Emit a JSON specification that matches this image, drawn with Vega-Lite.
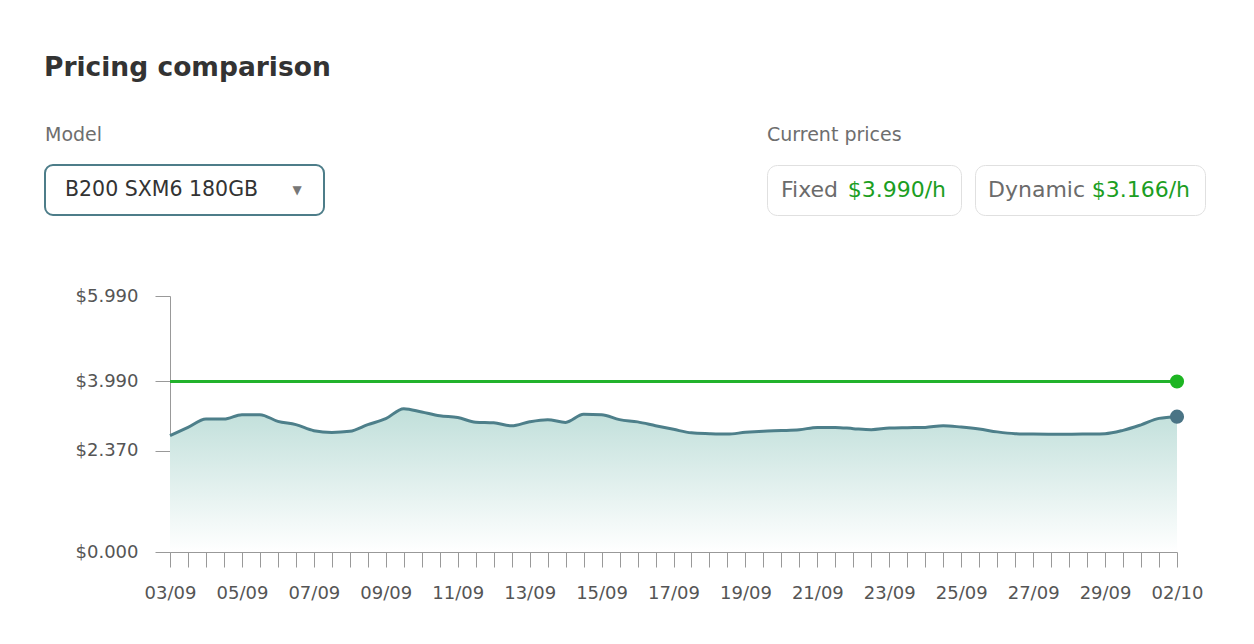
{
  "$schema": "https://vega.github.io/schema/vega-lite/v6.json",
  "padding": {"left": 44, "top": 54, "right": 0, "bottom": 0},
  "background": "#ffffff",
  "title": {
    "text": "Pricing comparison",
    "anchor": "start",
    "font": "DejaVu Sans",
    "fontSize": 26.5,
    "fontWeight": "bold",
    "color": "#333333",
    "offset": 44
  },
  "datasets": {
    "model": [{"model": "B200 SXM6 180GB"}],
    "current": [
      {"type": "Fixed", "t": "02/10", "price": 3.99, "priceLabel": "$3.990/h"},
      {"type": "Dynamic", "t": "02/10", "price": 3.166, "priceLabel": "$3.166/h"}
    ],
    "history": [
      {"t": "03/09", "price": 2.722},
      {"t": "03/09 12h", "price": 2.916},
      {"t": "04/09 01h", "price": 3.111},
      {"t": "04/09 13h", "price": 3.111},
      {"t": "05/09", "price": 3.214},
      {"t": "05/09 14h", "price": 3.214},
      {"t": "06/09 03h", "price": 3.057},
      {"t": "06/09 15h", "price": 2.98},
      {"t": "07/09", "price": 2.839},
      {"t": "07/09 16h", "price": 2.799},
      {"t": "08/09 04h", "price": 2.823},
      {"t": "08/09 17h", "price": 2.98},
      {"t": "09/09", "price": 3.12},
      {"t": "09/09 18h", "price": 3.354},
      {"t": "10/09 06h", "price": 3.275},
      {"t": "10/09 18h", "price": 3.186},
      {"t": "11/09", "price": 3.146},
      {"t": "11/09 19h", "price": 3.038},
      {"t": "12/09 08h", "price": 3.022},
      {"t": "12/09 20h", "price": 2.952},
      {"t": "13/09", "price": 3.048},
      {"t": "13/09 21h", "price": 3.097},
      {"t": "14/09 09h", "price": 3.033},
      {"t": "14/09 22h", "price": 3.221},
      {"t": "15/09", "price": 3.214},
      {"t": "15/09 23h", "price": 3.097},
      {"t": "16/09 11h", "price": 3.045},
      {"t": "16/09 23h", "price": 2.956},
      {"t": "17/09", "price": 2.87},
      {"t": "18/09 00h", "price": 2.788},
      {"t": "18/09 13h", "price": 2.769},
      {"t": "19/09 01h", "price": 2.759},
      {"t": "19/09", "price": 2.8},
      {"t": "20/09 02h", "price": 2.827},
      {"t": "20/09 15h", "price": 2.841},
      {"t": "21/09 03h", "price": 2.86},
      {"t": "21/09", "price": 2.916},
      {"t": "22/09 04h", "price": 2.916},
      {"t": "22/09 16h", "price": 2.886},
      {"t": "23/09 05h", "price": 2.862},
      {"t": "23/09", "price": 2.9},
      {"t": "24/09 06h", "price": 2.909},
      {"t": "24/09 18h", "price": 2.916},
      {"t": "25/09 06h", "price": 2.956},
      {"t": "25/09", "price": 2.923},
      {"t": "26/09 07h", "price": 2.877},
      {"t": "26/09 20h", "price": 2.811},
      {"t": "27/09 08h", "price": 2.769},
      {"t": "27/09", "price": 2.759},
      {"t": "28/09 09h", "price": 2.757},
      {"t": "28/09 21h", "price": 2.757},
      {"t": "29/09 10h", "price": 2.762},
      {"t": "29/09", "price": 2.769},
      {"t": "30/09 11h", "price": 2.846},
      {"t": "30/09 23h", "price": 2.975},
      {"t": "01/10 12h", "price": 3.127},
      {"t": "02/10", "price": 3.166}
    ]
  },
  "vconcat": [
    {
      "hconcat": [
        {
          "width": 279,
          "height": 50,
          "view": {"stroke": "#4d7d89", "strokeWidth": 2, "cornerRadius": 8},
          "title": {
            "text": "Model",
            "anchor": "start",
            "font": "DejaVu Sans",
            "fontSize": 19,
            "fontWeight": "normal",
            "color": "#6e6e6e",
            "offset": 20
          },
          "data": {"name": "model"},
          "layer": [
            {
              "mark": {"type": "text", "align": "left", "baseline": "middle", "dx": -119.5, "font": "DejaVu Sans", "fontSize": 20.5, "color": "#333333"},
              "encoding": {"text": {"field": "model"}}
            },
            {
              "mark": {"type": "text", "text": "▼", "align": "center", "baseline": "middle", "dx": 112.5, "font": "DejaVu Sans", "fontSize": 12, "color": "#777777"},
              "encoding": {}
            }
          ]
        },
        {
          "width": 415,
          "height": 50,
          "data": {"values": []},
          "mark": "text",
          "encoding": {}
        },
        {
          "width": 194,
          "height": 50,
          "view": {"stroke": "#e0e0e0", "strokeWidth": 1, "cornerRadius": 10},
          "title": {
            "text": "Current prices",
            "anchor": "start",
            "font": "DejaVu Sans",
            "fontSize": 19,
            "fontWeight": "normal",
            "color": "#6e6e6e",
            "offset": 20
          },
          "data": {"name": "current"},
          "transform": [{"filter": "datum.type == 'Fixed'"}],
          "layer": [
            {
              "mark": {"type": "text", "align": "left", "baseline": "middle", "dx": -83, "font": "DejaVu Sans", "fontSize": 22, "color": "#6b6b6b"},
              "encoding": {"text": {"field": "type"}}
            },
            {
              "mark": {"type": "text", "align": "right", "baseline": "middle", "dx": 82, "font": "DejaVu Sans", "fontSize": 22, "color": "#1b9e22"},
              "encoding": {"text": {"field": "priceLabel"}}
            }
          ]
        },
        {
          "width": 230,
          "height": 50,
          "view": {"stroke": "#e0e0e0", "strokeWidth": 1, "cornerRadius": 10},
          "data": {"name": "current"},
          "transform": [{"filter": "datum.type == 'Dynamic'"}],
          "layer": [
            {
              "mark": {"type": "text", "align": "left", "baseline": "middle", "dx": -102, "font": "DejaVu Sans", "fontSize": 22, "color": "#6b6b6b"},
              "encoding": {"text": {"field": "type"}}
            },
            {
              "mark": {"type": "text", "align": "right", "baseline": "middle", "dx": 100, "font": "DejaVu Sans", "fontSize": 22, "color": "#1b9e22"},
              "encoding": {"text": {"field": "priceLabel"}}
            }
          ]
        }
      ],
      "spacing": 14,
      "bounds": "flush"
    },
    {
      "hconcat": [
        {
          "width": 111,
          "height": 256,
          "data": {"values": []},
          "mark": "text",
          "encoding": {}
        },
        {
          "width": 1007,
          "height": 256,
          "layer": [
            {
              "data": {"name": "history"},
              "mark": {
                "type": "area",
                "interpolate": "monotone",
                "color": {
                  "gradient": "linear",
                  "x1": 0, "y1": 0, "x2": 0, "y2": 1,
                  "stops": [
                    {"offset": 0, "color": "#c0dfda"},
                    {"offset": 1, "color": "#ffffff"}
                  ]
                }
              },
              "encoding": {
                "x": {
                  "field": "t",
                  "type": "ordinal",
                  "sort": null,
                  "title": null,
                  "scale": {"type": "point", "padding": 0},
                  "axis": {
                    "labelExpr": "length(datum.label) == 5 ? datum.label : ''",
                    "labelAngle": 0,
                    "labelOverlap": false,
                    "labelFlush": false,
                    "tickSize": 15,
                    "labelPadding": 17,
                    "domainColor": "#999999",
                    "tickColor": "#999999",
                    "labelColor": "#555555",
                    "labelFont": "DejaVu Sans",
                    "labelFontSize": 18,
                    "grid": false
                  }
                },
                "y": {
                  "field": "price",
                  "type": "quantitative",
                  "title": null,
                  "scale": {"domain": [0, 5.99], "nice": false},
                  "axis": {
                    "values": [0, 2.37, 3.99, 5.99],
                    "format": "$.3f",
                    "tickSize": 15,
                    "labelPadding": 17,
                    "domainColor": "#999999",
                    "tickColor": "#999999",
                    "labelColor": "#555555",
                    "labelFont": "DejaVu Sans",
                    "labelFontSize": 18,
                    "grid": false
                  }
                }
              }
            },
            {
              "data": {"name": "history"},
              "mark": {"type": "line", "interpolate": "monotone", "color": "#4d7f8a", "strokeWidth": 3},
              "encoding": {
                "x": {"field": "t", "type": "ordinal", "sort": null, "title": null},
                "y": {"field": "price", "type": "quantitative", "title": null}
              }
            },
            {
              "data": {"name": "current"},
              "transform": [{"filter": "datum.type == 'Fixed'"}],
              "mark": {"type": "rule", "color": "#22b22c", "strokeWidth": 3},
              "encoding": {
                "y": {"field": "price", "type": "quantitative", "title": null}
              }
            },
            {
              "data": {"name": "current"},
              "mark": {"type": "point", "filled": true, "opacity": 1, "size": 200},
              "encoding": {
                "x": {"field": "t", "type": "ordinal", "sort": null, "title": null},
                "y": {"field": "price", "type": "quantitative", "title": null},
                "color": {
                  "field": "type",
                  "type": "nominal",
                  "scale": {"domain": ["Fixed", "Dynamic"], "range": ["#1db522", "#4a7485"]},
                  "legend": null
                }
              }
            }
          ]
        }
      ],
      "spacing": 14,
      "bounds": "flush"
    }
  ],
  "spacing": 131,
  "bounds": "flush",
  "config": {
    "font": "DejaVu Sans",
    "view": {"stroke": null}
  }
}
